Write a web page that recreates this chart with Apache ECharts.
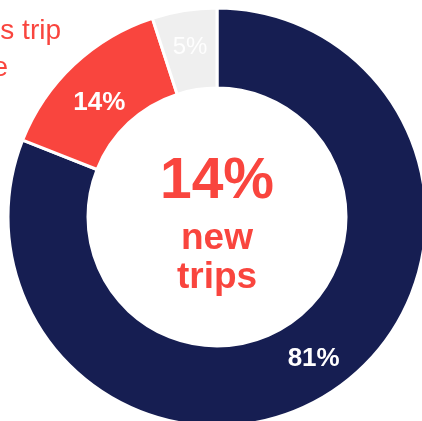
<!DOCTYPE html>
<html>
<head>
<meta charset="utf-8">
<script src="https://cdn.jsdelivr.net/npm/echarts@6/dist/echarts.min.js"></script>
<style>
  html, body { margin: 0; padding: 0; background: #fff; }
  #chart { width: 422px; height: 421px; }
</style>
</head>
<body>
<div id="chart"></div>
<script>
// Trip mix shares (percent), clockwise from 12 o'clock
var categories = ['Repeat trips', 'New trips', 'Other'];
var shares = [81, 14, 5];
var sliceColors = ['#161e52', '#f9453e', '#efefef'];
var headline = ['14%', 'new', 'trips'];
var sideNote = ['s trip', 'e'];

var FONT = '"Liberation Sans", Arial, sans-serif';
var RED = '#f9453e';

var chart = echarts.init(document.getElementById('chart'), null, { renderer: 'canvas' });

var pieData = categories.map(function (name, i) {
  var item = {
    name: name,
    value: shares[i],
    itemStyle: { color: sliceColors[i] }
  };
  if (i === 1) {
    item.label = { offset: [0, 11] };
  }
  if (i === 2) {
    item.label = { fontWeight: 'normal', fontSize: 24, color: 'rgba(255,255,255,0.9)' };
  }
  return item;
});

chart.setOption({
  animation: false,
  series: [{
    type: 'pie',
    center: [217, 217],
    radius: [129, 209],
    startAngle: 90,
    clockwise: true,
    itemStyle: { borderColor: '#fff', borderWidth: 3 },
    label: {
      show: true,
      position: 'inside',
      formatter: function (p) { return p.value + '%'; },
      color: '#fff',
      fontFamily: FONT,
      fontWeight: 'bold',
      fontSize: 26
    },
    labelLine: { show: false },
    emphasis: { disabled: true },
    data: pieData
  }],
  graphic: [
    {
      type: 'text', x: 217, y: 211,
      style: { text: headline[0], fill: RED, font: 'bold 57px ' + FONT, textAlign: 'center', textVerticalAlign: 'bottom' }
    },
    {
      type: 'text', x: 217, y: 239,
      style: { text: headline[1], fill: RED, font: 'bold 37px ' + FONT, textAlign: 'center', textVerticalAlign: 'middle' }
    },
    {
      type: 'text', x: 217, y: 278,
      style: { text: headline[2], fill: RED, font: 'bold 37px ' + FONT, textAlign: 'center', textVerticalAlign: 'middle' }
    },
    {
      type: 'text', x: 61, y: 31,
      style: { text: sideNote[0], fill: RED, font: '28px ' + FONT, textAlign: 'right', textVerticalAlign: 'middle' }
    },
    {
      type: 'text', x: 8, y: 68,
      style: { text: sideNote[1], fill: RED, font: '28px ' + FONT, textAlign: 'right', textVerticalAlign: 'middle' }
    }
  ]
});
</script>
</body>
</html>
